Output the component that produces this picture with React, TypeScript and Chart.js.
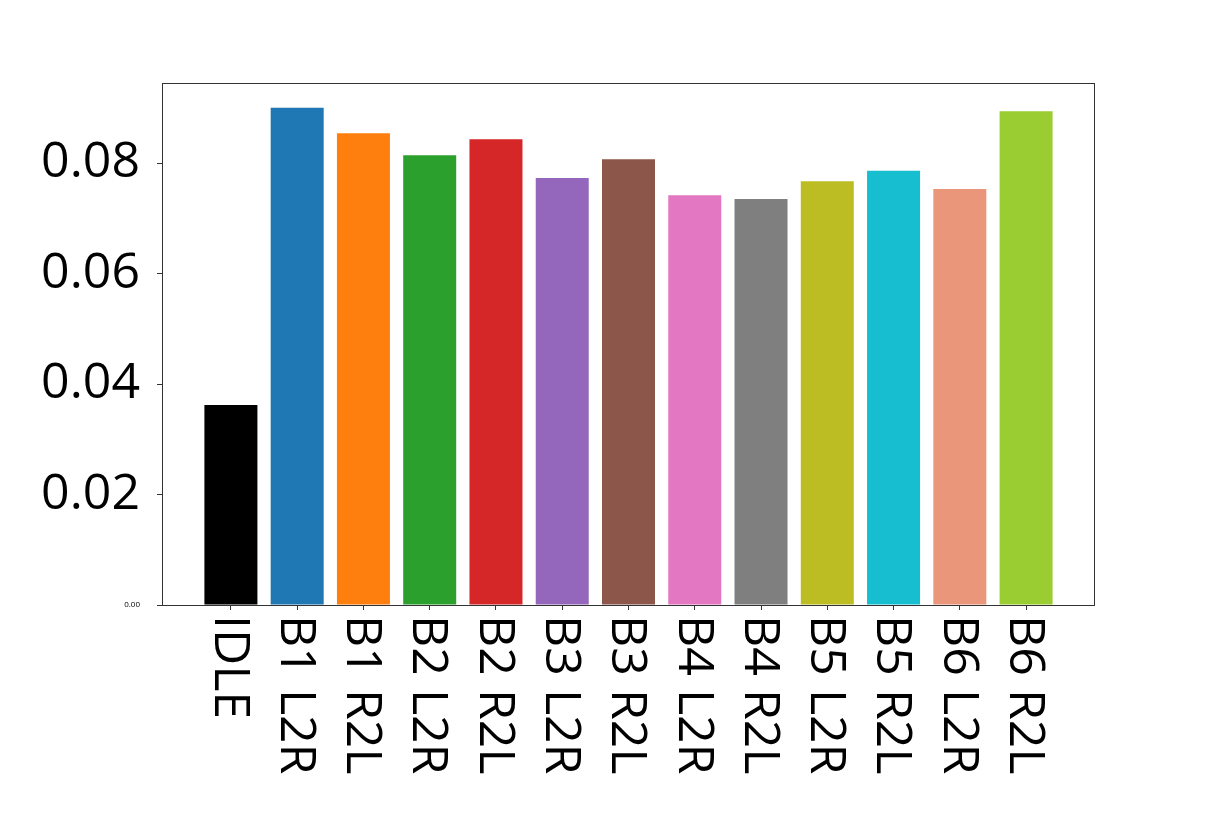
import React, { useEffect, useRef } from "react";
import { Chart, registerables } from "chart.js";

Chart.register(...registerables);

const categories = ["IDLE", "B1 L2R", "B1 R2L", "B2 L2R", "B2 R2L", "B3 L2R", "B3 R2L", "B4 L2R", "B4 R2L", "B5 L2R", "B5 R2L", "B6 L2R", "B6 R2L"];
const values = [0.0362, 0.0900, 0.0854, 0.0814, 0.0843, 0.0773, 0.0807, 0.0742, 0.0735, 0.0767, 0.0786, 0.0753, 0.0894];
const barColors = ["#000000", "#1f77b4", "#ff7f0e", "#2ca02c", "#d62728", "#9467bd", "#8c564b", "#e377c2", "#7f7f7f", "#bcbd22", "#17becf", "#e9967a", "#9acd32"];
const yTicks = [0, 0.02, 0.04, 0.06, 0.08];
const yMax = 0.0945;

const FONT = "'Open Sans', sans-serif";

const framePlugin = {
  id: "frameAndLabels",
  afterDraw(chart: any) {
    const { ctx, chartArea } = chart;
    const xScale = chart.scales.x;
    ctx.save();
    ctx.strokeStyle = "#333333";
    ctx.lineWidth = 1;
    ctx.strokeRect(chartArea.left + 0.5, chartArea.top + 0.5, chartArea.right - chartArea.left - 1, chartArea.bottom - chartArea.top);
    ctx.fillStyle = "#000000";
    ctx.font = `50px ${FONT}`;
    ctx.textAlign = "left";
    ctx.textBaseline = "middle";
    categories.forEach((label, i) => {
      const x = xScale.getPixelForValue(i);
      ctx.save();
      ctx.translate(x, chartArea.bottom + 10);
      ctx.rotate(Math.PI / 2);
      ctx.fillText(label, 0, 2);
      ctx.restore();
    });
    ctx.restore();
  },
};

export default function App() {
  const canvasRef = useRef<HTMLCanvasElement | null>(null);

  useEffect(() => {
    if (!canvasRef.current) return;
    const chart = new Chart(canvasRef.current, {
      type: "bar",
      data: {
        datasets: [
          {
            data: categories.map((c, i) => ({ x: i, y: values[i] })),
            backgroundColor: barColors,
            borderWidth: 0,
            categoryPercentage: 0.8,
            barPercentage: 1.0,
          },
        ],
      },
      options: {
        animation: false,
        responsive: false,
        maintainAspectRatio: false,
        layout: { padding: { left: 0, right: 120, top: 83, bottom: 0 } },
        plugins: { legend: { display: false }, tooltip: { enabled: false } },
        scales: {
          x: {
            type: "linear",
            min: -1.04,
            max: 13.04,
            offset: false,
            afterBuildTicks: (scale: any) => {
              scale.ticks = categories.map((c, i) => ({ value: i }));
            },
            afterFit: (scale: any) => {
              scale.height = 208;
            },
            ticks: { display: false },
            grid: { offset: false, drawOnChartArea: false, drawTicks: true, tickLength: 5, color: "#333333" },
            border: { display: false },
          },
          y: {
            min: 0,
            max: yMax,
            afterBuildTicks: (scale: any) => {
              scale.ticks = yTicks.map((v) => ({ value: v }));
            },
            afterFit: (scale: any) => {
              scale.width = 162;
            },
            ticks: {
              color: "#000000",
              padding: 17,
              callback: (v: any) => Number(v).toFixed(2),
              font: (ctx: any) =>
                ctx.tick && ctx.tick.value === 0
                  ? { size: 8, family: FONT }
                  : { size: 50, family: FONT },
            },
            grid: { drawOnChartArea: false, drawTicks: true, tickLength: 5, color: "#333333" },
            border: { display: false },
          },
        },
      },
      plugins: [framePlugin],
    });
    return () => chart.destroy();
  }, []);

  return (
    <div style={{ position: "fixed", left: 0, top: 0, width: 1215, height: 813, background: "#ffffff" }}>
      <canvas ref={canvasRef} width={1215} height={813} style={{ width: 1215, height: 813 }} />
    </div>
  );
}
